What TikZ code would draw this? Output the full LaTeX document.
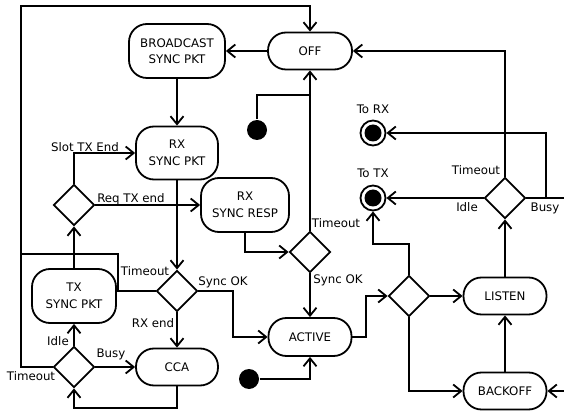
\documentclass[tikz,border=0pt]{standalone}
\usepackage{fontspec}
\setmainfont{DejaVu Sans}
\usetikzlibrary{arrows.meta,shapes.geometric}
\begin{document}
\begin{tikzpicture}[x=1pt,y=-1pt,
  line width=1.8pt,
  every node/.style={font=\fontsize{11.8}{16.5}\selectfont},
  state/.style={draw,rounded corners=18pt,align=center,inner sep=0pt},
  dec/.style={draw,diamond,minimum width=41pt,minimum height=41pt,inner sep=0pt},
  lbl/.style={inner sep=0pt,text height=8.6pt,text depth=0pt},
  arr/.style={-{Straight Barb[length=8pt,width=13pt,line width=1.8pt]}},
  initdot/.style={circle,fill=black,minimum size=20pt,inner sep=0pt},
  finalring/.style={circle,draw,minimum size=25pt,inner sep=0pt}
]
\useasboundingbox (0,0) rectangle (564,411);
\begin{scope}
\clip (0,0) rectangle (564,411);
% states
\node[state,minimum width=84pt,minimum height=37pt] (off) at (310,51) {OFF};
\node[state,minimum width=96pt,minimum height=54pt] (bcast) at (177,51) {BROADCAST\\SYNC PKT};
\node[state,minimum width=82pt,minimum height=53pt] (rxsync) at (177,153) {RX\\SYNC PKT};
\node[state,minimum width=88pt,minimum height=54pt] (rxresp) at (245,205) {RX\\SYNC RESP};
\node[state,minimum width=84pt,minimum height=54pt] (txsync) at (74,296) {TX\\SYNC PKT};
\node[state,minimum width=82pt,minimum height=37pt] (cca) at (177,367) {CCA};
\node[state,minimum width=83pt,minimum height=38pt] (active) at (310,337) {ACTIVE};
\node[state,minimum width=83pt,minimum height=37pt] (listen) at (505,296) {LISTEN};
\node[state,minimum width=83pt,minimum height=37pt] (backoff) at (505,391) {BACKOFF};
% decisions
\node[dec] (d1) at (74,205) {};
\node[dec] (d2) at (310,252) {};
\node[dec] (d3) at (177,291) {};
\node[dec] (d4) at (74,367) {};
\node[dec] (d5) at (409,296) {};
\node[dec] (d6) at (505,198) {};
% initial / final
\node[initdot] (init1) at (257,130) {};
\node[initdot] (init2) at (249,379) {};
\node[finalring] (torx) at (373,133) {};
\node[finalring] (totx) at (373,198) {};
\fill (torx.center) circle (8.5pt);
\fill (totx.center) circle (8.5pt);
% helper coordinates
\coordinate (ftl) at (21,6);
\coordinate (tj) at (118,254);
\coordinate (fj) at (21,254);
\coordinate (jn) at (310,95);
\coordinate (c1) at (233,291);
\coordinate (cb) at (177,408);
\coordinate (c2) at (366,337);
\coordinate (c3) at (409,244);
\coordinate (c4) at (546,198);
\coordinate (re1) at (570,198);
\coordinate (re2) at (570,391);
% connectors
\draw[arr] (d4.west) -| (ftl) -| (off.north);
\draw (d3.west) -| (tj) -- (fj);
\draw[arr] (off.west) -- (bcast.east);
\draw[arr] (bcast.south) -- (rxsync.north);
\draw[arr] (d1.north) |- (rxsync.west);
\draw[arr] (d1.east) -- (rxresp.west);
\draw[arr] (rxsync.south) -- (d3.north);
\draw[arr] (rxresp.south) |- (d2.west);
\draw[arr] (d2.north) -- (off.south);
\draw[arr] (d2.south) -- (active.north);
\draw (init1) |- (jn);
\draw[arr] (d3.east) -- (c1) |- (active.west);
\draw[arr] (d3.south) -- (cca.north);
\draw[arr] (txsync.north) -- (d1.south);
\draw[arr] (d4.north) -- (txsync.south);
\draw[arr] (d4.east) -- (cca.west);
\draw[arr] (cca.south) -- (cb) -| (d4.south);
\draw[arr] (init2) -| (active.south);
\draw[arr] (active.east) -- (c2) |- (d5.west);
\draw[arr] (d5.north) -- (c3) -| (totx.south);
\draw[arr] (d5.east) -- (listen.west);
\draw[arr] (d5.south) |- (backoff.west);
\draw[arr] (backoff.north) -- (listen.south);
\draw[arr] (listen.north) -- (d6.south);
\draw[arr] (d6.north) |- (off.east);
\draw[arr] (d6.west) -- (totx.east);
\draw (d6.east) -- (re1);
\draw[arr] (c4) |- (torx.east);
\draw[arr] (re2) -- (backoff.east);
% labels
\node[lbl] (l1) at (85,147) {Slot TX End};
\node[lbl] (l2) at (131,198) {Req TX end};
\node[lbl] (l3) at (145,271) {Timeout};
\node[lbl] (l4) at (223,281) {Sync OK};
\node[lbl] (l5) at (153,323) {RX end};
\node[lbl] (l6) at (58,341) {Idle};
\node[lbl] (l7) at (111,353) {Busy};
\node[lbl] (l8) at (31,376) {Timeout};
\node[lbl] (l9) at (336,223) {Timeout};
\node[lbl] (l10) at (338,279) {Sync OK};
\node[lbl] (l11) at (373,109) {To RX};
\node[lbl] (l12) at (373,173) {To TX};
\node[lbl] (l13) at (476,170) {Timeout};
\node[lbl] (l14) at (467,207) {Idle};
\node[lbl] (l15) at (545,207) {Busy};
\end{scope}
\end{tikzpicture}
\end{document}
